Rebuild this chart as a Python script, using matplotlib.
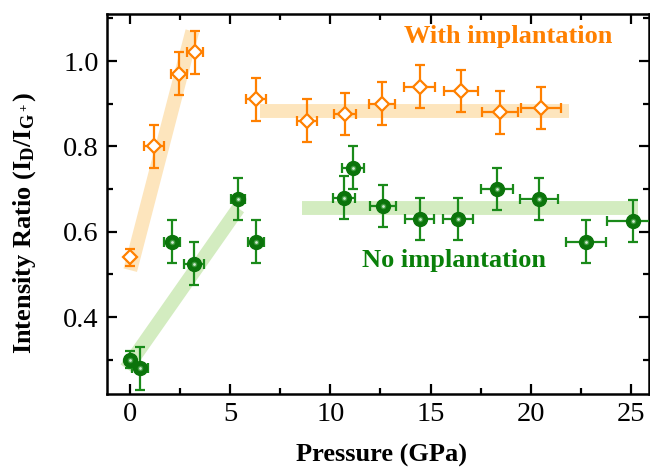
import numpy as np
import matplotlib.pyplot as plt
from matplotlib.ticker import MultipleLocator

plt.rcParams['font.family'] = ['Liberation Serif', 'DejaVu Serif']
plt.rcParams['mathtext.fontset'] = 'custom'
plt.rcParams['mathtext.rm'] = 'Liberation Serif:bold'
plt.rcParams['mathtext.it'] = 'Liberation Serif:bold'
plt.rcParams['mathtext.bf'] = 'Liberation Serif:bold'

# с имплантацией
p_with = [0.0, 1.2, 2.45, 3.25, 6.3, 8.85, 10.75, 12.6, 14.45, 16.5, 18.45, 20.5]
r_with = [0.54, 0.80, 0.97, 1.02, 0.91, 0.86, 0.876, 0.90, 0.94, 0.93, 0.88, 0.89]
pe_with = [0.1, 0.5, 0.4, 0.4, 0.5, 0.5, 0.55, 0.65, 0.75, 0.85, 0.9, 1.0]
re_with = [0.02, 0.05, 0.05, 0.05, 0.05, 0.05, 0.05, 0.05, 0.05, 0.05, 0.05, 0.05]

# без имплантации
p_no = [0.0, 0.5, 2.1, 3.2, 5.4, 6.3, 10.7, 11.15, 12.65, 14.45, 16.35, 18.3, 20.4, 22.75, 25.1]
r_no = [0.30, 0.28, 0.577, 0.525, 0.677, 0.577, 0.68, 0.75, 0.66, 0.63, 0.63, 0.70, 0.677, 0.577, 0.625]
pe_no = [0.1, 0.4, 0.4, 0.5, 0.35, 0.4, 0.55, 0.55, 0.65, 0.7, 0.75, 0.8, 0.95, 1.0, 1.3]
re_no = [0.02, 0.05, 0.05, 0.05, 0.05, 0.05, 0.05, 0.05, 0.05, 0.05, 0.05, 0.05, 0.05, 0.05, 0.05]

# полосы-ориентиры
band_with_x1 = [0.0, 3.1]
band_with_y1 = [0.51, 1.07]
band_with_x2 = [6.5, 21.9]
band_with_y2 = [0.883, 0.883]
band_no_x1 = [-0.2, 5.4]
band_no_y1 = [0.28, 0.655]
band_no_x2 = [8.6, 25.35]
band_no_y2 = [0.656, 0.656]

orange = '#ff8000'
green = '#0a800a'

fig = plt.figure(figsize=(6.5, 4.69), dpi=100)
ax = fig.add_axes([0.165, 0.16, 0.833, 0.81])

ax.plot(band_with_x1, band_with_y1, color='#fde5bd', lw=10, solid_capstyle='butt', zorder=1)
ax.plot(band_with_x2, band_with_y2, color='#fde5bd', lw=10, solid_capstyle='butt', zorder=1)
ax.plot(band_no_x1, band_no_y1, color='#d3ecc0', lw=10, solid_capstyle='butt', zorder=1)
ax.plot(band_no_x2, band_no_y2, color='#d3ecc0', lw=10, solid_capstyle='butt', zorder=1)

ax.errorbar(p_with, r_with, xerr=pe_with, yerr=re_with, fmt='D', ms=7.5,
            mfc='white', mec=orange, mew=1.6, ecolor=orange, elinewidth=1.6,
            capsize=3.5, capthick=1.6, zorder=3)

ax.errorbar(p_no, r_no, xerr=pe_no, yerr=re_no, fmt='none',
            ecolor='#1a8a1a', elinewidth=1.6, capsize=3.5, capthick=1.6, zorder=3)
ax.plot(p_no, r_no, 'o', ms=10, color='#0b740b', mec='#0b740b', zorder=4)
ax.plot(p_no, r_no, 'o', ms=4, color='#3d9a3d', mec='none', zorder=5)
ax.plot(p_no, r_no, 'o', ms=2, color='#d0ead0', mec='none', zorder=6)

fig.text(508 / 650, 1 - 37 / 469, 'With implantation', color=orange,
         fontsize=19, fontweight='bold', ha='center', va='center')
fig.text(454 / 650, 1 - 260 / 469, 'No implantation', color=green,
         fontsize=19, fontweight='bold', ha='center', va='center')

ax.set_xlim(-1.15, 25.9)
ax.set_ylim(0.22, 1.11)
ax.xaxis.set_major_locator(MultipleLocator(5))
ax.xaxis.set_minor_locator(MultipleLocator(2.5))
ax.yaxis.set_major_locator(MultipleLocator(0.2))
ax.yaxis.set_minor_locator(MultipleLocator(0.1))
ax.tick_params(which='both', direction='in', top=True, right=True, width=1.6,
               labelsize=20.5)
ax.tick_params(which='major', length=7, pad=6)
ax.tick_params(which='minor', length=4)
for s in ax.spines.values():
    s.set_linewidth(1.8)

fig.text(382 / 650, 1 - 455 / 469, 'Pressure (GPa)', fontsize=19,
         fontweight='bold', ha='center', va='center')
fig.text(25 / 650, 1 - 223 / 469,
         r'Intensity Ratio (I$_\mathregular{D}$/I$_\mathregular{G^+}$)',
         fontsize=19, fontweight='bold', ha='center', va='center', rotation=90)

fig.savefig('out.png', dpi=100)
